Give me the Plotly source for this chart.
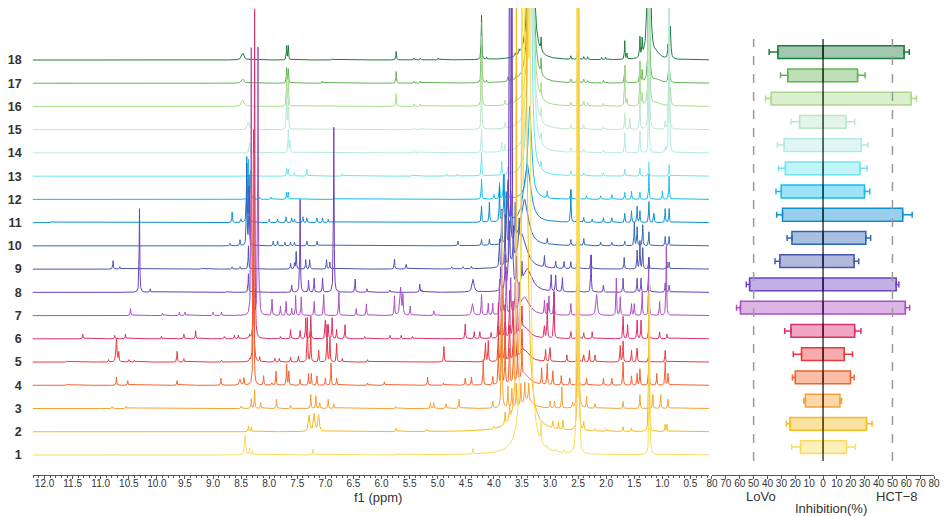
import numpy as np
import plotly.graph_objects as go

# ---- data ------------------------------------------------------------------
ROW_LABELS = [str(i) for i in range(1, 19)]

ROW_COLORS = [
    "#f9dc5c", "#f8b91c", "#f7a035", "#f2622e", "#e8393f", "#db2e6c",
    "#ab4fc3", "#6b42c0", "#4a56ae", "#2f67b5", "#0f8fcf", "#12bdf0",
    "#6ae4ef", "#b4e9e2", "#bde6c8", "#a9d98c", "#63b356", "#1f7c3f",
]

# peak lists per sample: (ppm, height in row units[, half width ppm])
S1 = [(8.43, 0.85, 0.012), (8.35, 0.25), (8.30, 0.2), (7.22, 0.25), (5.75, 0.05),
      (4.37, 0.25), (3.50, 15, 0.012), (3.42, 30, 0.035), (3.36, 15, 0.012),
      (3.16, 0.8), (3.05, 0.1), (2.90, 0.1), (2.75, 0.1), (2.52, 30, 0.005),
      (2.48, 20, 0.004), (1.23, 8)]
S2 = [(8.37, 0.25), (8.32, 0.2), (7.29, 0.7, 0.015), (7.20, 0.75, 0.015),
      (7.12, 0.7, 0.015), (5.74, 0.15), (5.20, 0.1), (4.50, 0.05), (4.00, 0.1),
      (3.80, 0.5), (3.72, 0.5), (3.60, 20), (3.49, 20), (3.45, 25, 0.04),
      (2.95, 0.3), (2.85, 0.3), (2.77, 0.4), (2.50, 25, 0.005), (2.40, 0.35),
      (2.20, 0.1), (2.00, 0.1), (1.70, 0.2), (1.55, 0.15), (1.24, 6),
      (0.95, 0.3), (0.92, 0.3)]
S3 = [(10.80, 0.08), (10.55, 0.1), (8.50, 0.1), (8.32, 0.42), (8.26, 0.8),
      (8.15, 0.25), (7.87, 0.4), (7.62, 0.15), (7.26, 0.6), (7.17, 0.55),
      (7.10, 0.25), (6.95, 0.4), (6.85, 0.2), (5.75, 0.1), (5.13, 0.25),
      (5.07, 0.25), (4.85, 0.2), (4.62, 0.4), (4.02, 0.3), (3.86, 8.5),
      (3.75, 0.9), (3.68, 0.8), (3.60, 1.0), (3.52, 0.9), (3.45, 0.8),
      (3.38, 0.7), (3.40, 0.4, 0.1), (3.00, 0.3), (2.92, 0.3), (2.79, 0.9),
      (2.60, 0.2), (2.50, 25, 0.005), (2.35, 0.5), (2.20, 0.2), (1.70, 0.3),
      (1.40, 0.6), (1.17, 0.6), (1.03, 0.6), (0.90, 0.4)]
S4 = [(11.6, 0.05), (10.72, 0.35), (10.52, 0.2), (9.64, 0.2), (8.86, 0.3),
      (8.52, 0.25, 0.015), (8.45, 0.3), (8.28, 10), (8.10, 0.4), (7.95, 0.1),
      (7.88, 0.6), (7.69, 0.9), (7.65, 0.6), (7.45, 0.25), (7.30, 0.5),
      (7.25, 0.5), (7.15, 0.4), (7.00, 0.3), (6.90, 0.96), (6.80, 0.3),
      (6.25, 0.1), (5.95, 0.15), (5.18, 0.35), (4.90, 0.1), (4.51, 0.3),
      (4.40, 0.35), (4.19, 1.1), (4.02, 0.35), (3.92, 1.8), (3.86, 2.5),
      (3.80, 2.0), (3.72, 1.5), (3.65, 2.2), (3.58, 1.5), (3.50, 1.2),
      (3.45, 0.5, 0.1), (3.15, 0.7), (3.05, 0.9), (2.95, 0.6), (2.80, 0.4),
      (2.65, 0.3), (2.50, 2.0), (2.35, 0.3), (2.05, 0.3), (1.90, 0.3),
      (1.70, 1.0), (1.55, 0.4), (1.45, 0.5), (1.40, 0.7), (1.24, 1.5),
      (1.10, 0.5), (0.95, 1.0), (0.90, 0.5)]
S5 = [(11.6, 0.05), (10.86, 0.1), (10.72, 1.0, 0.01), (10.68, 0.4), (10.50, 0.1),
      (10.40, 0.08), (9.64, 0.46), (9.52, 0.15), (8.85, 0.08), (8.35, 0.1),
      (8.28, 10), (8.17, 0.2), (7.90, 0.15), (7.82, 0.15), (7.62, 0.2),
      (7.48, 0.25), (7.32, 1.9), (7.26, 1.3), (7.12, 0.5), (6.97, 1.6),
      (6.92, 1.0), (6.80, 0.8), (6.70, 0.15), (6.25, 0.1), (4.89, 0.67),
      (4.15, 0.8), (4.10, 0.9), (3.92, 1.5), (3.86, 2.0), (3.80, 1.6),
      (3.72, 1.5), (3.65, 1.8), (3.58, 1.2), (3.50, 1.0), (3.45, 0.5, 0.1),
      (3.08, 0.5), (3.00, 0.6), (2.70, 0.3), (2.50, 1.5), (2.40, 0.3),
      (2.30, 0.5), (2.20, 0.3), (1.75, 0.7), (1.70, 0.9), (1.55, 0.5),
      (1.45, 0.6), (1.24, 0.6), (0.95, 0.5)]
S6 = [(11.32, 0.2), (10.75, 0.15), (10.56, 0.2), (9.92, 0.1), (9.52, 0.2),
      (9.31, 0.35), (8.80, 0.1), (8.62, 0.15), (8.55, 0.15), (8.35, 0.15),
      (8.26, 14.2), (7.80, 0.1), (7.62, 0.4), (7.45, 0.35), (7.35, 0.9),
      (7.26, 0.96), (7.00, 0.8), (6.95, 0.6), (6.88, 0.9), (6.80, 0.4),
      (6.65, 0.6), (6.30, 0.1), (5.85, 0.15), (5.65, 0.15), (5.45, 0.1),
      (4.51, 0.63), (4.35, 0.3), (4.25, 0.3), (4.05, 0.25), (3.92, 1.5),
      (3.86, 1.8), (3.80, 1.4), (3.72, 2.0), (3.66, 1.5), (3.58, 1.2),
      (3.50, 1.0), (3.45, 0.5, 0.1), (3.10, 0.5), (3.05, 1.5), (2.93, 2.0),
      (2.63, 0.3), (2.50, 1.5), (2.40, 0.25), (2.25, 0.3), (1.70, 0.96),
      (1.62, 0.6), (1.45, 0.8), (1.38, 0.8), (1.24, 0.8), (1.05, 0.3),
      (0.92, 0.2)]
S7 = [(10.47, 0.3), (9.9, 0.1), (9.6, 0.15), (9.5, 0.15), (9.0, 0.15),
      (8.85, 0.15), (8.32, 11.5), (8.20, 11.5), (8.17, 0.76), (7.95, 0.7),
      (7.80, 0.4), (7.70, 0.6), (7.60, 0.3), (7.53, 0.86), (7.43, 0.8),
      (7.20, 0.6), (7.03, 0.9), (6.76, 1.0), (6.45, 0.3), (6.27, 0.5),
      (5.77, 0.83), (5.66, 1.2, 0.015), (5.62, 0.8), (5.49, 0.4), (5.07, 0.2),
      (4.38, 0.5, 0.015), (4.22, 0.9), (4.10, 0.5), (4.02, 0.5), (3.90, 1.5),
      (3.84, 1.2), (3.78, 2.0), (3.70, 1.5), (3.62, 1.2), (3.55, 1.0),
      (3.45, 0.8, 0.1), (3.10, 0.6), (3.02, 0.8), (2.93, 1.0), (2.63, 0.5),
      (2.50, 1.0), (2.17, 0.9, 0.015), (1.82, 1.6), (1.75, 0.8), (1.55, 0.5),
      (1.50, 0.5), (1.36, 1.0), (1.24, 2.0), (1.05, 0.6), (0.93, 3.0)]
S8 = [(10.31, 3.6), (10.12, 0.15), (8.75, 0.05), (8.37, 0.8), (7.60, 0.3),
      (7.45, 4.0), (7.30, 0.5), (7.20, 0.6), (7.05, 0.6), (6.85, 7.1),
      (6.47, 0.57), (6.26, 0.15), (5.85, 0.1), (5.32, 0.35), (5.28, 0.1),
      (4.37, 0.55, 0.02), (3.88, 1.0), (3.80, 1.4), (3.72, 20), (3.68, 20),
      (3.60, 1.2), (3.50, 0.8), (3.40, 1.0, 0.1), (2.98, 0.7), (2.90, 0.7),
      (2.78, 0.6), (2.50, 1.0), (2.27, 1.6), (2.05, 0.3), (1.70, 0.6),
      (1.45, 0.6), (1.38, 0.6), (1.24, 1.5), (0.95, 0.4), (0.88, 0.3)]
S9 = [(10.78, 0.36), (10.66, 0.1), (9.2, 0.05), (8.66, 0.1), (8.52, 0.1),
      (8.37, 1.0), (7.62, 0.25), (7.55, 0.25), (7.52, 0.75), (7.35, 0.4),
      (7.28, 0.4), (6.98, 0.4), (6.92, 0.3), (5.77, 0.43), (5.56, 0.2),
      (4.75, 0.1), (4.55, 0.1), (4.40, 0.1), (3.90, 1.2), (3.80, 2.2),
      (3.72, 1.8), (3.65, 1.4), (3.55, 1.0), (3.50, 1.5, 0.1), (3.10, 0.5),
      (2.90, 0.3), (2.75, 0.3), (2.63, 0.3), (2.50, 1.0), (2.27, 0.6),
      (1.68, 0.5), (1.45, 0.8), (1.40, 1.2), (1.35, 0.9), (1.24, 0.5),
      (0.92, 0.3), (0.88, 0.3)]
S10 = [(11.6, 0.03), (9.2, 0.03), (8.70, 0.1), (8.52, 0.25), (8.40, 3.5),
       (8.36, 2.5), (7.93, 0.2), (7.85, 0.2), (7.72, 0.15), (7.62, 0.15),
       (7.55, 0.15), (7.33, 0.2), (7.15, 0.2), (4.64, 0.2), (4.22, 0.25),
       (4.08, 0.25), (3.86, 1.5), (3.78, 2.2), (3.70, 2.0), (3.62, 1.5),
       (3.45, 2.0, 0.08), (3.05, 0.25), (2.63, 0.25), (2.50, 1.0), (2.40, 0.3),
       (2.10, 0.15), (1.90, 0.15), (1.67, 0.2), (1.50, 1.0), (1.45, 0.8),
       (1.35, 0.9), (1.24, 0.6), (0.95, 0.4), (0.88, 0.4)]
S11 = [(11.87, 0.05), (8.66, 0.46), (8.50, 0.15), (8.40, 2.8), (8.36, 2.0),
       (8.00, 0.15), (7.85, 0.15), (7.70, 0.25), (7.60, 0.2), (7.55, 0.15),
       (7.40, 0.25), (7.33, 0.2), (7.15, 0.2), (7.05, 0.2), (6.95, 0.15),
       (4.22, 0.7), (4.08, 0.85), (3.90, 1.5), (3.82, 2.0), (3.75, 1.6),
       (3.70, 1.2), (3.40, 2.5, 0.07), (2.63, 1.4), (2.50, 1.0), (2.40, 0.2),
       (2.25, 0.15), (2.05, 0.2), (1.90, 0.2), (1.67, 0.4), (1.55, 0.5),
       (1.45, 0.7), (1.40, 0.5), (1.24, 0.9), (1.15, 0.4), (0.95, 0.6),
       (0.88, 0.6)]
S12 = [(8.37, 1.7), (8.33, 1.2), (8.17, 0.1), (7.97, 0.1), (7.69, 0.3),
       (7.66, 0.3), (6.85, 0.1), (4.22, 0.85), (4.00, 0.2), (3.90, 0.7),
       (3.83, 1.0), (3.75, 0.8), (3.36, 4, 0.04), (3.05, 0.3), (2.63, 0.4),
       (2.50, 1.0), (2.35, 0.15), (2.10, 0.15), (1.90, 0.2), (1.67, 0.3),
       (1.55, 0.35), (1.40, 0.3), (1.24, 1.1), (1.00, 0.35), (0.88, 1.0)]
S13 = [(8.37, 0.1), (7.69, 0.32), (7.66, 0.3), (7.55, 0.15), (7.33, 0.3),
       (6.70, 0.1), (5.45, 0.06), (4.84, 0.08), (4.65, 0.08), (4.22, 1.0),
       (3.86, 0.6), (3.75, 0.3), (3.36, 15, 0.03), (3.16, 0.3), (2.63, 0.2),
       (2.50, 1.0), (2.40, 0.12), (2.05, 0.12), (1.67, 0.3), (1.40, 0.35),
       (1.24, 0.6), (0.88, 0.5)]
S14 = [(8.35, 0.45, 0.01), (7.66, 1.0), (7.63, 0.5), (7.55, 0.05), (5.42, 0.08),
       (5.31, 0.06), (4.22, 1.0), (3.86, 0.4), (3.80, 0.3), (3.34, 25, 0.025),
       (3.16, 0.4), (2.63, 0.2), (2.50, 1.0), (2.40, 0.15), (2.05, 0.12),
       (1.67, 0.86), (1.40, 0.93), (1.24, 4), (0.95, 0.2), (0.88, 8)]
S15 = [(8.37, 0.33, 0.02), (7.69, 1.6), (7.66, 1.5), (5.42, 0.07), (5.31, 0.07),
       (4.22, 2.5), (3.80, 0.25), (3.60, 0.3), (3.34, 30, 0.022), (3.16, 0.5),
       (2.63, 0.2), (2.50, 1.0), (2.40, 0.2), (2.05, 0.12), (1.67, 0.72),
       (1.58, 0.5), (1.40, 1.45), (1.24, 12), (0.95, 0.3), (0.88, 6)]
S16 = [(8.47, 0.28, 0.025), (7.69, 1.3), (7.66, 1.2), (5.74, 0.55), (5.42, 0.1),
       (5.31, 0.1), (4.22, 3.0), (3.80, 0.2), (3.70, 0.25), (3.60, 0.3),
       (3.34, 30, 0.022), (3.16, 0.6), (2.63, 0.15), (2.50, 1.0), (2.40, 0.2),
       (2.33, 0.15), (2.05, 0.12), (1.67, 1.7), (1.63, 0.3), (1.40, 1.85),
       (1.36, 0.5), (1.24, 18), (1.10, 0.15, 0.08), (0.86, 0.8, 0.012)]
S17 = [(8.47, 0.18, 0.025), (7.69, 0.65), (7.66, 0.6), (7.06, 0.08), (5.74, 0.5),
       (5.42, 0.08), (5.31, 0.08), (4.22, 2.6), (4.13, 0.1), (3.75, 0.2),
       (3.68, 0.2), (3.60, 0.25), (3.34, 30, 0.022), (3.16, 0.65), (2.63, 0.15),
       (2.50, 1.0), (2.40, 0.15), (2.33, 0.1), (2.05, 0.12), (1.67, 0.75),
       (1.40, 0.9), (1.36, 0.5), (1.24, 20), (1.10, 0.15, 0.08),
       (0.88, 0.8, 0.012)]
S18 = [(8.47, 0.3, 0.025), (7.69, 0.6), (7.66, 0.6), (6.88, 0.05), (5.74, 0.37),
       (5.42, 0.08), (5.31, 0.08), (4.99, 0.08), (4.22, 1.9), (4.13, 0.1),
       (3.62, 0.12), (3.55, 0.15), (3.34, 30, 0.022), (3.16, 0.55), (2.63, 0.15),
       (2.50, 1.0), (2.40, 0.12), (2.33, 0.12), (2.08, 0.1), (2.01, 0.1),
       (1.67, 0.8), (1.63, 0.25), (1.40, 0.85), (1.36, 0.7), (1.24, 25, 0.012),
       (1.10, 0.2, 0.08), (0.90, 0.5), (0.86, 1.4, 0.012)]

SPECTRA = [S1, S2, S3, S4, S5, S6, S7, S8, S9, S10, S11, S12, S13, S14,
           S15, S16, S17, S18]

# inhibition rates (%) with SD, samples 1..18
LOVO = [16.2, 23.8, 12.7, 20.0, 15.5, 23.1, 59.5, 52.9, 31.1, 22.4, 29.2, 30.1,
        27.1, 28.0, 16.9, 37.4, 25.4, 32.5]
LOVO_ERR = [6.4, 2.6, 1.2, 2.1, 5.9, 4.5, 2.8, 2.4, 3.5, 3.5, 4.2, 3.8, 4.9,
            4.9, 6.1, 4.0, 5.2, 6.3]
HCT8 = [16.9, 31.3, 12.2, 19.8, 15.3, 22.8, 59.3, 52.7, 22.4, 30.8, 57.4, 29.9,
        26.6, 27.5, 16.7, 63.5, 24.9, 58.4]
HCT8_ERR = [6.4, 4.0, 1.2, 2.6, 5.9, 4.5, 3.1, 1.9, 3.3, 3.5, 6.8, 3.8, 5.2,
            4.9, 6.1, 3.8, 5.4, 3.7]

INHIB_TICKS = list(range(-80, 81, 10))
PPM_TICKS = [round(12.0 - 0.5 * i, 1) for i in range(24)]


def rgba(hex_color, alpha):
    h = hex_color.lstrip("#")
    r, g, b = int(h[0:2], 16), int(h[2:4], 16), int(h[4:6], 16)
    return f"rgba({r},{g},{b},{alpha})"


def spectrum(ppm, peaks):
    """Sum of Lorentzian lines for one peak list."""
    y = np.zeros_like(ppm)
    for p in peaks:
        x0, h = p[0], p[1]
        w = p[2] if len(p) > 2 else 0.006
        y += h * w ** 2 / ((ppm - x0) ** 2 + w ** 2)
    return y


FONT = "Arial, Liberation Sans, sans-serif"
TXT = "#333333"
# the page body adds an 8px margin, so the figure is 8px smaller each way
W, H = 940, 508
B = 41          # bottom margin px
PLOT_H = H - B  # 467
ROW_PX = 23.24  # pixel distance between two stacked spectra

fig = go.Figure()

# ---- stacked 1H NMR spectra (sample 18 at the back, 1 in front) -------------
ppm = np.arange(0.15, 12.25, 0.002)
for i in reversed(range(len(SPECTRA))):
    fig.add_trace(go.Scatter(
        x=ppm, y=i + spectrum(ppm, SPECTRA[i]),
        mode="lines", line=dict(color=ROW_COLORS[i], width=1),
        hoverinfo="skip", showlegend=False, xaxis="x", yaxis="y",
    ))

# ---- diverging inhibition bars ---------------------------------------------
for i in range(len(LOVO)):
    c = ROW_COLORS[i]
    common = dict(
        y=[i], orientation="h", width=0.55,
        marker=dict(color=rgba(c, 0.42), line=dict(color=c, width=1.5)),
        xaxis="x2", yaxis="y2", showlegend=False, hoverinfo="skip",
    )
    fig.add_trace(go.Bar(
        x=[-LOVO[i]],
        error_x=dict(type="data", symmetric=False, array=[0],
                     arrayminus=[LOVO_ERR[i]], color=c, thickness=1.5, width=3),
        **common))
    fig.add_trace(go.Bar(
        x=[HCT8[i]],
        error_x=dict(type="data", symmetric=False, array=[HCT8_ERR[i]],
                     arrayminus=[0], color=c, thickness=1.5, width=3),
        **common))

# reference lines
for xv, col, dash, wd in [(-50, "#9a9a9a", "dash", 1.5), (50, "#9a9a9a", "dash", 1.5),
                          (0, "#111111", "solid", 1.2)]:
    fig.add_shape(type="line", xref="x2", yref="y2", x0=xv, x1=xv,
                  y0=-0.6, y1=17.56, line=dict(color=col, dash=dash, width=wd),
                  layer="above")

y_top = 17 + 52 / ROW_PX
y_bot = -20 / ROW_PX


def below(px):
    """paper y for a point px pixels below the plot bottom"""
    return -px / PLOT_H


fig.update_layout(
    width=W, height=H,
    margin=dict(l=0, r=0, t=0, b=B),
    plot_bgcolor="white", paper_bgcolor="white",
    font=dict(family=FONT, color=TXT),
    barmode="overlay",
    xaxis=dict(
        domain=[19 / W, 704 / W], range=[12.21, 0.17],
        tickmode="array", tickvals=PPM_TICKS,
        ticktext=[f"{v:.1f}" for v in PPM_TICKS],
        ticks="outside", ticklen=3, tickcolor="#555", tickwidth=1,
        minor=dict(dtick=0.1, ticks="outside", ticklen=2, tickcolor="#555"),
        showline=True, linecolor="#555", linewidth=1,
        showgrid=False, zeroline=False, ticklabelstandoff=-4,
        tickfont=dict(size=10, color=TXT), anchor="y",
    ),
    yaxis=dict(
        domain=[0, 1], range=[y_bot, y_top],
        tickmode="array", tickvals=list(range(18)), ticktext=ROW_LABELS,
        ticks="", showline=False, showgrid=False, zeroline=False,
        tickfont=dict(size=12.5, color=TXT, weight="bold"),
        ticklabelstandoff=10, anchor="x",
    ),
    xaxis2=dict(
        domain=[707 / W, 932 / W], range=[-80, 80],
        tickmode="array", tickvals=INHIB_TICKS,
        ticktext=[str(abs(v)) for v in INHIB_TICKS],
        ticks="outside", ticklen=3, tickcolor="#555", tickwidth=1,
        showline=True, linecolor="#555", linewidth=1,
        showgrid=False, zeroline=False, ticklabelstandoff=-4,
        tickfont=dict(size=10, color=TXT), anchor="y2",
    ),
    yaxis2=dict(
        domain=[0, 1], range=[y_bot - 0.34, y_top - 0.34],
        visible=False, anchor="x2",
    ),
    annotations=[
        dict(text="f1 (ppm)", xref="x", yref="paper", x=6.07, y=below(23),
             showarrow=False, font=dict(size=13, color=TXT), yanchor="middle"),
        dict(text="LoVo", xref="x2", yref="paper", x=-44.5, y=below(22),
             showarrow=False, font=dict(size=13, color=TXT), yanchor="middle"),
        dict(text="HCT\u22128", xref="x2", yref="paper", x=53.6, y=below(22),
             showarrow=False, font=dict(size=13, color=TXT), yanchor="middle"),
        dict(text="Inhibition(%)", xref="x2", yref="paper", x=5.5,
             y=below(33.5), showarrow=False,
             font=dict(size=13, color=TXT), yanchor="middle"),
    ],
)

fig.write_html("out.html")
